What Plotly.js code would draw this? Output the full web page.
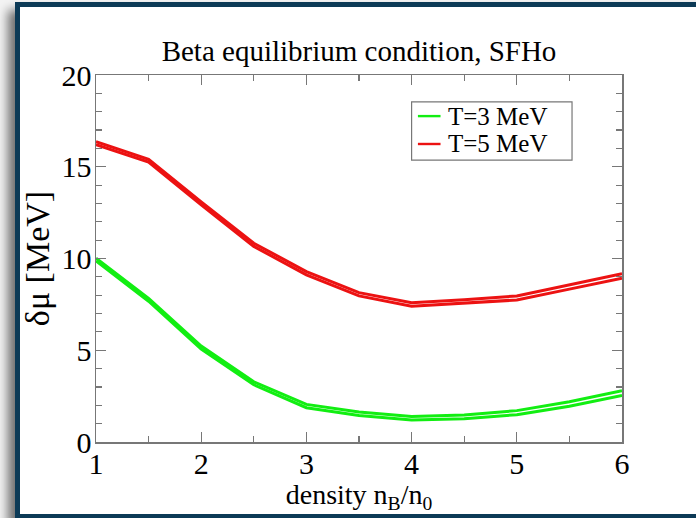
<!DOCTYPE html>
<html>
<head>
<meta charset="utf-8">
<script src="https://cdn.plot.ly/plotly-3.0.1.min.js"></script>
<style>
  html, body { margin:0; padding:0; width:696px; height:518px; overflow:hidden; background:#f4f4f4; }
  #frame { position:absolute; left:15px; top:2px; width:700px; height:507px;
           border-left:5px solid #0c3a56; border-top:5px solid #0c3a56; border-bottom:5px solid #0c3a56;
           background:#ffffff; box-shadow:-7px 8px 10px rgba(0,0,0,0.55); }
  #chart { position:absolute; left:0; top:0; width:696px; height:518px; }
</style>
</head>
<body>
<div id="frame"></div>
<div id="chart"></div>
<script>
// density n_B / n_0
const density = [1, 1.5, 2, 2.5, 3, 3.5, 4, 4.5, 5, 5.5, 6];
// delta mu [MeV], T = 3 MeV (two nearly coincident curves)
const t3Upper = [10.02, 7.83, 5.23, 3.28, 2.05, 1.63, 1.39, 1.47, 1.71, 2.19, 2.79];
const t3Lower = [9.87, 7.67, 5.07, 3.12, 1.87, 1.45, 1.20, 1.27, 1.49, 1.95, 2.54];
// delta mu [MeV], T = 5 MeV
const t5Upper = [16.36, 15.41, 13.08, 10.83, 9.29, 8.14, 7.59, 7.75, 7.96, 8.57, 9.17];
const t5Lower = [16.21, 15.26, 12.92, 10.66, 9.11, 7.96, 7.40, 7.55, 7.74, 8.33, 8.93];
const seriesNames = ['T=3 MeV', 'T=5 MeV'];
const xTickVals = [1, 2, 3, 4, 5, 6];
const yTickVals = [0, 5, 10, 15, 20];
const xTitle = 'density n<sub>B</sub>/n<sub>0</sub>';
const yTitle = 'δμ [MeV]';
const chartTitle = 'Beta equilibrium condition, SFHo';

const green = '#12ee12';
const red = '#ec1212';
const colors = [green, red];
const FONT = 'Liberation Serif, Times New Roman, serif';

function tr(y, color, name) {
  return { x: density, y: y, type: 'scatter', mode: 'lines', name: name,
           showlegend: false, line: { color: color, width: 3 } };
}
const data = [
  tr(t3Upper, green, seriesNames[0]),
  tr(t3Lower, green, seriesNames[0]),
  tr(t5Upper, red, seriesNames[1]),
  tr(t5Lower, red, seriesNames[1])
];

// legend box (paper coordinates)
const lg = { x0: 0.6, x1: 0.905, y0: 0.768, y1: 0.927 };
const rowY = [0.888, 0.812];
const shapes = [
  { type: 'rect', xref: 'paper', yref: 'paper', x0: lg.x0, x1: lg.x1, y0: lg.y0, y1: lg.y1,
    line: { color: '#777', width: 1.2 }, fillcolor: '#fff', layer: 'above' }
];
const annotations = [];
seriesNames.forEach(function (nm, i) {
  shapes.push({ type: 'line', xref: 'paper', yref: 'paper', x0: 0.612, x1: 0.655,
                y0: rowY[i], y1: rowY[i], line: { color: colors[i], width: 2.4 }, layer: 'above' });
  annotations.push({ xref: 'paper', yref: 'paper', x: 0.668, y: rowY[i], xanchor: 'left', yanchor: 'middle',
                     text: nm, showarrow: false, borderpad: 0,
                     font: { family: FONT, size: 25, color: '#000' } });
});

const axCommon = {
  showgrid: false, zeroline: false, showline: true, linecolor: '#777', linewidth: 1.5,
  mirror: 'ticks', ticks: 'inside', ticklen: 10, tickwidth: 1.2, tickcolor: '#777',
  tickfont: { family: FONT, size: 30, color: '#000' }
};

const layout = {
  width: 696, height: 518,
  margin: { l: 96, r: 74, t: 75, b: 76 },
  paper_bgcolor: 'rgba(0,0,0,0)', plot_bgcolor: 'rgba(0,0,0,0)',
  title: { text: chartTitle, xref: 'paper', x: 0.5,
           yref: 'container', y: 1 - 51/518, yanchor: 'middle',
           font: { family: FONT, size: 29, color: '#000' } },
  xaxis: Object.assign({}, axCommon, {
    range: [1, 6], tickmode: 'array', tickvals: xTickVals, ticklabelstandoff: -6,
    minor: { dtick: 0.5, ticks: 'inside', ticklen: 6, tickcolor: '#777', tickwidth: 1.2 },
    title: { text: xTitle, standoff: 0, font: { family: FONT, size: 28, color: '#000' } }
  }),
  yaxis: Object.assign({}, axCommon, {
    range: [0, 20], tickmode: 'array', tickvals: yTickVals, ticklabelstandoff: -3,
    minor: { dtick: 1, ticks: 'inside', ticklen: 6, tickcolor: '#777', tickwidth: 1.2 },
    title: { text: yTitle, standoff: 1,
             font: { family: FONT, size: 34, color: '#000' } }
  }),
  shapes: shapes,
  annotations: annotations,
  showlegend: false
};

Plotly.newPlot('chart', data, layout, { staticPlot: true, displayModeBar: false });
</script>
</body>
</html>
